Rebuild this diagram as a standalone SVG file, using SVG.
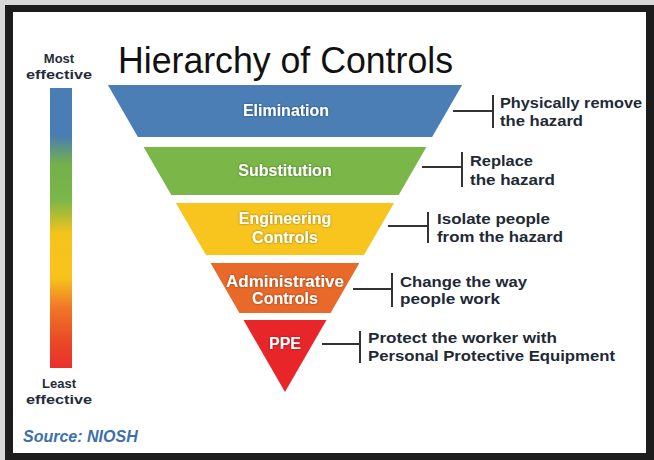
<svg xmlns="http://www.w3.org/2000/svg" width="654" height="460" viewBox="0 0 654 460">
  <style>
    .lvl { font-family: "Liberation Sans", Arial, sans-serif; font-weight: bold; font-size: 16px; fill: #ffffff; text-anchor: middle; filter: url(#shadow); }
    .desc { font-family: "Liberation Sans", Arial, sans-serif; font-weight: bold; font-size: 15.5px; fill: #1e2a36; }
    .side { font-family: "Liberation Sans", Arial, sans-serif; font-weight: bold; font-size: 13px; fill: #1f2d3a; text-anchor: middle; }
    .conn { stroke: #333333; stroke-width: 2; fill: none; }
  </style>
  <defs>
    <linearGradient id="bar" x1="0" y1="0" x2="0" y2="1">
      <stop offset="0" stop-color="#4a7db4"/>
      <stop offset="0.17" stop-color="#4a7db4"/>
      <stop offset="0.27" stop-color="#74b04c"/>
      <stop offset="0.40" stop-color="#7ab648"/>
      <stop offset="0.52" stop-color="#f5c41c"/>
      <stop offset="0.68" stop-color="#f8c21c"/>
      <stop offset="0.78" stop-color="#ef7a28"/>
      <stop offset="0.90" stop-color="#ea4a26"/>
      <stop offset="1" stop-color="#e8302a"/>
    </linearGradient>
    <filter id="shadow" x="-10%" y="-30%" width="120%" height="160%">
      <feDropShadow dx="0" dy="0" stdDeviation="0.8" flood-color="#000000" flood-opacity="0.45"/>
    </filter>
  </defs>

  <!-- frame -->
  <rect x="0" y="0" width="654" height="460" fill="#d8d8d8"/>
  <rect x="5" y="5" width="649" height="455" fill="#1c1c1c"/>
  <rect x="13" y="12" width="633" height="441" fill="#ffffff"/>

  <!-- title -->
  <text id="title" x="118" y="73" font-family="'Liberation Sans', Arial, sans-serif" font-size="36" fill="#111111" textLength="335" lengthAdjust="spacingAndGlyphs">Hierarchy of Controls</text>

  <!-- effectiveness bar -->
  <g id="scale">
    <text class="side" x="59" y="63">Most</text>
    <text class="side" x="59" y="79" textLength="66" lengthAdjust="spacingAndGlyphs">effective</text>
    <rect x="50" y="88" width="22" height="280" fill="url(#bar)"/>
    <text class="side" x="59" y="388">Least</text>
    <text class="side" x="59" y="404" textLength="66" lengthAdjust="spacingAndGlyphs">effective</text>
  </g>

  <!-- levels -->
  <g id="elimination">
    <polygon points="107.9,85 462.1,85 432.1,137 137.9,137" fill="#4a7eb5"/>
    <text class="lvl" x="286" y="116">Elimination</text>
  </g>
  <g id="substitution">
    <polygon points="143.6,147 426.4,147 398.7,195 171.3,195" fill="#7ab648"/>
    <text class="lvl" x="285" y="176">Substitution</text>
  </g>
  <g id="engineering">
    <polygon points="175.9,203 394.1,203 364,255 206,255" fill="#f7c51e"/>
    <text class="lvl" x="285" y="224">Engineering</text>
    <text class="lvl" x="285" y="243">Controls</text>
  </g>
  <g id="administrative">
    <polygon points="210.6,263 359.4,263 330.6,313 239.4,313" fill="#e8692a"/>
    <text class="lvl" x="285" y="287" textLength="118" lengthAdjust="spacingAndGlyphs">Administrative</text>
    <text class="lvl" x="285" y="304">Controls</text>
  </g>
  <g id="ppe">
    <polygon points="243.5,320 326.5,320 285,392" fill="#e8262a"/>
    <text class="lvl" x="285" y="349">PPE</text>
  </g>

  <!-- connectors -->
  <g id="connectors">
    <path class="conn" d="M453 111 H493 M493 95 V128"/>
    <path class="conn" d="M422 167 H462 M462 152 V187"/>
    <path class="conn" d="M388 226 H428 M428 212 V243"/>
    <path class="conn" d="M353 289 H392 M392 273 V307"/>
    <path class="conn" d="M322 344 H360 M360 331 V363"/>
  </g>

  <!-- descriptions -->
  <g id="desc-elimination">
    <text class="desc" x="500" y="108" textLength="142" lengthAdjust="spacingAndGlyphs">Physically remove</text>
    <text class="desc" x="500" y="126" textLength="83" lengthAdjust="spacingAndGlyphs">the hazard</text>
  </g>
  <g id="desc-substitution">
    <text class="desc" x="470" y="166" textLength="63" lengthAdjust="spacingAndGlyphs">Replace</text>
    <text class="desc" x="470" y="185" textLength="85" lengthAdjust="spacingAndGlyphs">the hazard</text>
  </g>
  <g id="desc-engineering">
    <text class="desc" x="437" y="224" textLength="113" lengthAdjust="spacingAndGlyphs">Isolate people</text>
    <text class="desc" x="437" y="242" textLength="126" lengthAdjust="spacingAndGlyphs">from the hazard</text>
  </g>
  <g id="desc-administrative">
    <text class="desc" x="400" y="287" textLength="127" lengthAdjust="spacingAndGlyphs">Change the way</text>
    <text class="desc" x="400" y="304" textLength="100" lengthAdjust="spacingAndGlyphs">people work</text>
  </g>
  <g id="desc-ppe">
    <text class="desc" x="368" y="343" textLength="189" lengthAdjust="spacingAndGlyphs">Protect the worker with</text>
    <text class="desc" x="368" y="361" textLength="247" lengthAdjust="spacingAndGlyphs">Personal Protective Equipment</text>
  </g>

  <!-- source -->
  <text id="source" x="23" y="442" font-family="'Liberation Sans', Arial, sans-serif" font-weight="bold" font-style="italic" font-size="16" fill="#3d6fae">Source: NIOSH</text>
</svg>
